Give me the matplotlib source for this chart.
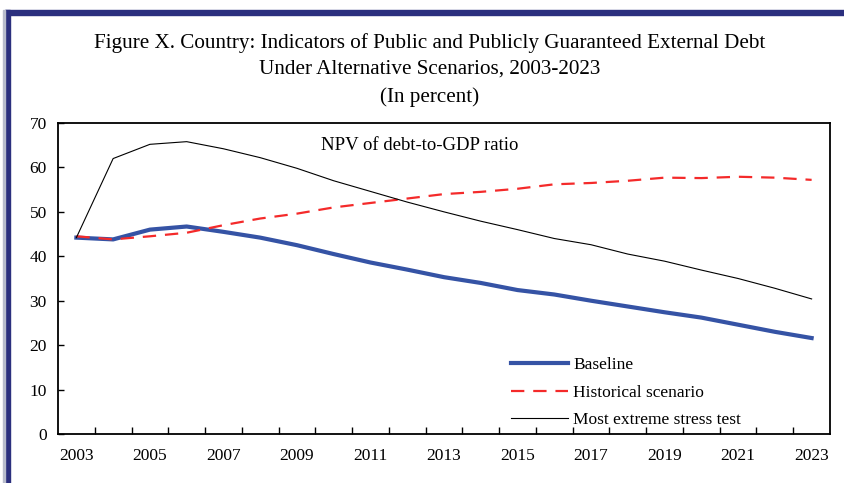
import numpy as np
import matplotlib.pyplot as plt
from matplotlib.patches import Rectangle

# data
years = list(range(2003, 2024))
baseline = [44.2, 43.8, 46.0, 46.7, 45.5, 44.2, 42.5, 40.5, 38.6, 37.0, 35.3,
            34.0, 32.4, 31.4, 30.0, 28.7, 27.4, 26.2, 24.6, 23.0, 21.6]
historical = [44.5, 43.8, 44.5, 45.3, 47.0, 48.5, 49.6, 51.0, 52.0, 53.0, 54.0,
              54.5, 55.2, 56.2, 56.5, 57.0, 57.7, 57.6, 57.9, 57.7, 57.2]
stress = [44.2, 62.0, 65.2, 65.8, 64.2, 62.2, 59.8, 57.0, 54.6, 52.2, 50.0,
          47.9, 46.0, 44.0, 42.6, 40.5, 38.9, 36.9, 35.0, 32.8, 30.4]
year_labels = [str(y) for y in years[::2]]

plt.rcParams['font.family'] = ['Liberation Serif', 'DejaVu Serif']

W, H = 845, 483
fig = plt.figure(figsize=(W / 100, H / 100), dpi=100)

# navy frame on top and left
navy = '#2b2f7e'
fig.patches.append(Rectangle((5 / W, 0), 5 / W, 1 - 10 / H, transform=fig.transFigure,
                             color=navy, zorder=0))
fig.patches.append(Rectangle((5 / W, 1 - 15 / H), 1, 5 / H, transform=fig.transFigure,
                             color=navy, zorder=0))
fig.patches.append(Rectangle((3 / W, 0), 1.5 / W, 1 - 10 / H, transform=fig.transFigure,
                             color='#b8bccc', zorder=0))

# titles
title_kw = dict(ha='center', va='center', fontsize=15.2)
fig.text(430 / W, 1 - 43 / H, 'Figure X. Country: Indicators of Public and Publicly Guaranteed External Debt',
         **title_kw)
fig.text(430 / W, 1 - 69 / H, 'Under Alternative Scenarios, 2003-2023', **title_kw)
fig.text(430 / W, 1 - 97 / H, '(In percent)', **title_kw)

ax = fig.add_axes([58 / W, (H - 434) / H, (830 - 58) / W, (434 - 123) / H])
x = np.arange(len(years))

ax.plot(x, baseline, color='#3553a5', lw=3, label='Baseline')
ax.plot(x, historical, color='#f42a2a', lw=1.6, ls=(0, (6, 4)), label='Historical scenario')
ax.plot(x, stress, color='black', lw=0.8, label='Most extreme stress test')

ax.set_xlim(-0.5, len(years) - 0.5)
ax.set_ylim(0, 70)
ax.set_yticks(range(0, 71, 10))
ax.set_xticks(x[::2])
ax.set_xticklabels(year_labels)
ax.set_xticks(np.arange(0.5, len(years) - 1, 1), minor=True)
ax.tick_params(axis='x', which='major', length=0, pad=10, labelsize=12.5)
ax.tick_params(axis='x', which='minor', direction='in', length=5, width=1)
ax.tick_params(axis='y', direction='in', length=4, width=1, labelsize=12.5, pad=8)
for s in ax.spines.values():
    s.set_linewidth(1.3)

ax.text(0.469, 0.928, 'NPV of debt-to-GDP ratio', transform=ax.transAxes,
        ha='center', va='center', fontsize=13.5)

ax.legend(loc='lower left', bbox_to_anchor=(0.5665, -0.031), frameon=False,
          fontsize=12.5, handlelength=3.3, handletextpad=0.3, labelspacing=0.65)

fig.savefig('out.png', dpi=100)
